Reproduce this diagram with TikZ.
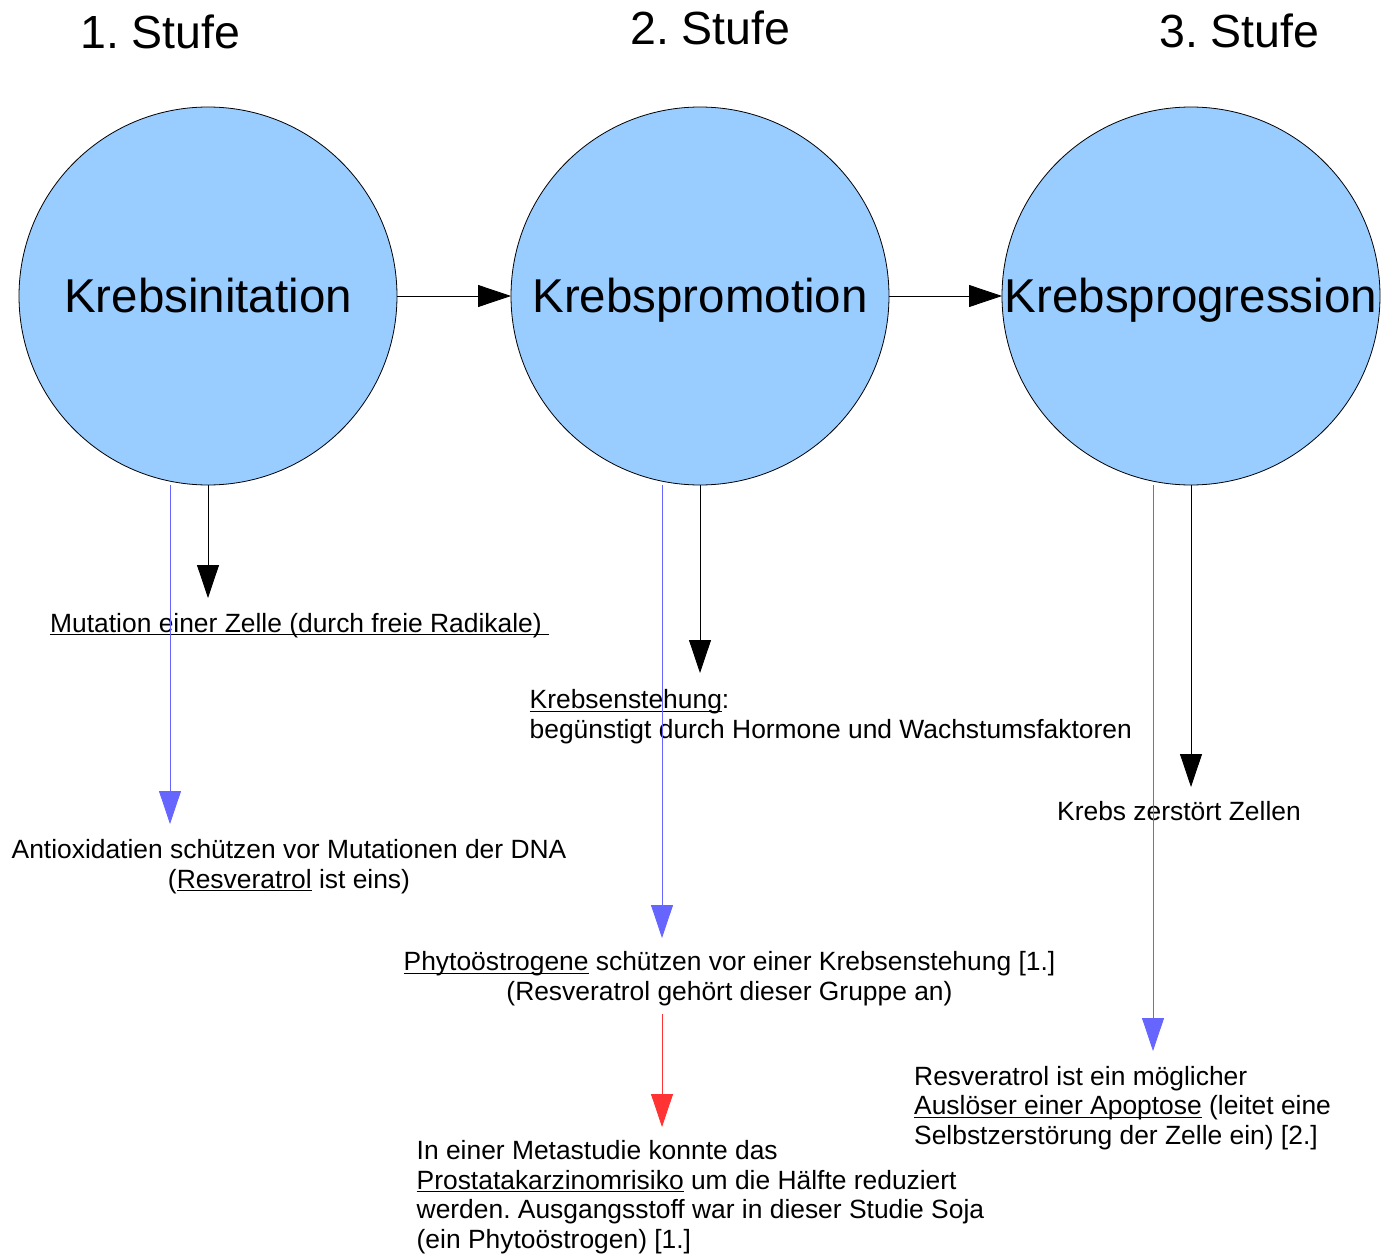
\documentclass[tikz,border=0pt]{standalone}
\usepackage{fontspec}
\setmainfont{Liberation Sans}
\usetikzlibrary{arrows.meta}
\definecolor{cfill}{HTML}{99CCFF}
\definecolor{cblue}{HTML}{6666FF}
\definecolor{cred}{HTML}{FF3333}
\newcommand{\myul}[1]{\begingroup\setbox0\hbox{#1}\rlap{\rule[-3.2pt]{\wd0}{1.1pt}}\box0\endgroup}
\frenchspacing
\begin{document}
\frenchspacing
\begin{tikzpicture}[x=1pt,y=-1pt,
  stage/.style={circle, draw=black, line width=0.8pt, fill=cfill, minimum size=378pt,
    inner sep=0pt, outer sep=0pt, font=\fontsize{47.5}{57}\selectfont,
    text height=33pt, text depth=1pt},
  head/.style={inner sep=0pt, anchor=base west, font=\fontsize{46.5}{56}\selectfont},
  txt/.style={inner sep=0pt, font=\fontsize{26.4}{29.5}\selectfont\frenchspacing},
  blk/.style={draw=black, line width=0.8pt, -{Triangle[width=22pt,length=33pt]}},
  blu/.style={draw=cblue, line width=0.8pt, -{Triangle[width=22pt,length=33pt,color=cblue]}},
  rd/.style={draw=cred, line width=0.8pt, -{Triangle[width=22pt,length=33pt,color=cred]}}
]
\useasboundingbox (0,0) rectangle (1393,1255);

% headings
\node[head] (h1) at (80,49) {1. Stufe};
\node[head] (h2) at (630,45) {2. Stufe};
\node[head] (h3) at (1159,48) {3. Stufe};

% stages
\node[stage] (c1) at (208,296) {Krebsinitation};
\node[stage] (c2) at (700,296) {Krebspromotion};
\node[stage] (c3) at (1191,296) {Krebsprogression};

\draw[blk] (c1.east) -- (c2.west);
\draw[blk] (c2.east) -- (c3.west);

% texts (base anchor = baseline of the last line)
\node[txt, anchor=base west] (m1) at (50,632) {\myul{Mutation einer Zelle (durch freie Radikale)\ }};
\node[txt, anchor=base west, align=left] (m2) at (529.5,738)
  {\myul{Krebsenstehung}:\\begünstigt durch Hormone und Wachstumsfaktoren};
\node[txt, anchor=base west] (m3) at (1057,820) {Krebs zerstört Zellen};
\node[txt, anchor=base, align=center] (p1) at (289,888)
  {Antioxidatien schützen vor Mutationen der DNA\\(\myul{Resveratrol} ist eins)};
\node[txt, anchor=base, align=center] (p2) at (729.5,1000)
  {\myul{Phytoöstrogene} schützen vor einer Krebsenstehung [1.]\\(Resveratrol gehört dieser Gruppe an)};
\node[txt, anchor=base west, align=left] (p3) at (914,1144)
  {Resveratrol ist ein möglicher\\\myul{Auslöser einer Apoptose} (leitet eine\\Selbstzerstörung der Zelle ein) [2.]};
\node[txt, anchor=base west, align=left] (p4) at (416.5,1248)
  {In einer Metastudie konnte das\\\myul{Prostatakarzinomrisiko} um die Hälfte reduziert\\werden. Ausgangsstoff war in dieser Studie Soja\\(ein Phytoöstrogen) [1.]};

% arrow end points
\coordinate (k1) at (208,598);
\coordinate (k2) at (700,673);
\coordinate (k3) at (1191,787);
\coordinate (b1) at (170,824);
\coordinate (b2) at (662,938);
\coordinate (b3) at (1153,1051);
\coordinate (r0) at (662,1014);
\coordinate (r1) at (662,1127);

\draw[blk] (c1.south) -- (k1);
\draw[blk] (c2.south) -- (k2);
\draw[blk] (c3.south) -- (k3);
\draw[blu] (c1.south -| b1) -- (b1);
\draw[blu] (c2.south -| b2) -- (b2);
\draw[blu] (c3.south -| b3) -- (b3);
\draw[rd] (r0) -- (r1);
\end{tikzpicture}
\end{document}
